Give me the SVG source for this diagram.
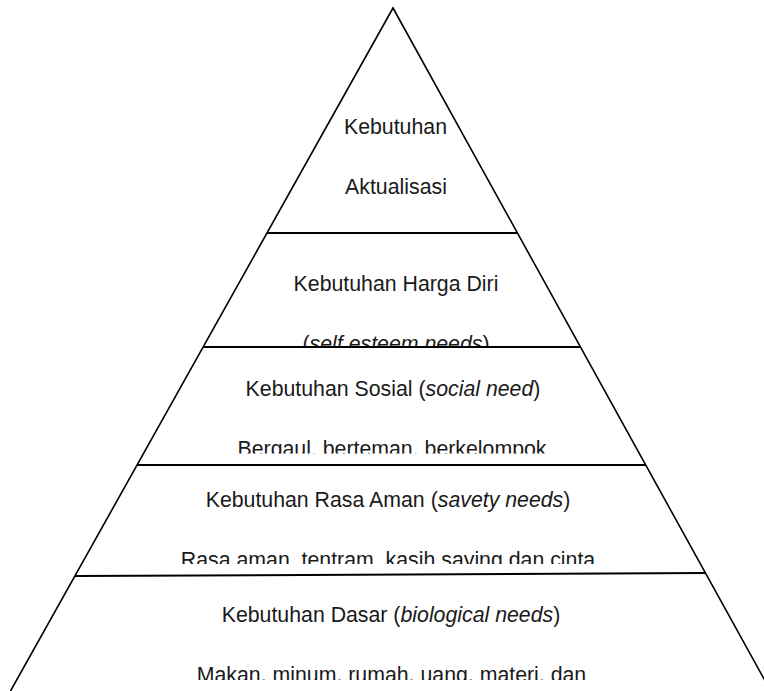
<svg xmlns="http://www.w3.org/2000/svg" width="764" height="691" viewBox="0 0 764 691">
<style>
  .edge { fill: none; stroke: #000; stroke-width: 1.6; }
  .div { stroke: #000; stroke-width: 2; }
  .t { font-family: "Liberation Sans", Arial, sans-serif; font-size: 21.3px; fill: #1a1a1a; text-anchor: middle; }
  .i { font-style: italic; }
</style>
<defs>
  <clipPath id="c2"><rect x="0" y="0" width="764" height="346.5"/></clipPath>
  <clipPath id="c3"><rect x="0" y="0" width="764" height="453.5"/></clipPath>
  <clipPath id="c4"><rect x="0" y="0" width="764" height="564"/></clipPath>
  <clipPath id="c5"><rect x="0" y="0" width="764" height="680"/></clipPath>
</defs>
<rect width="764" height="691" fill="#fff"/>
<g id="pyramid">
  <polyline class="edge" points="10.5,691 393,8 770.7,691"/>
</g>
<g id="tier-aktualisasi">
  <text class="t" x="395.5" y="134">Kebutuhan</text>
  <text class="t" x="396" y="194">Aktualisasi</text>
</g>
<g id="tier-harga-diri">
  <line class="div" x1="267" y1="233" x2="517.4" y2="233"/>
  <text class="t" x="396" y="291">Kebutuhan Harga Diri</text>
  <text class="t" x="396" y="351" clip-path="url(#c2)">(<tspan class="i">self esteem needs</tspan>)</text>
</g>
<g id="tier-sosial">
  <line class="div" x1="203.2" y1="347" x2="580.5" y2="347"/>
  <text class="t" x="393" y="396">Kebutuhan Sosial (<tspan class="i">social need</tspan>)</text>
  <text class="t" x="392" y="456" clip-path="url(#c3)">Bergaul, berteman, berkelompok</text>
</g>
<g id="tier-rasa-aman">
  <line class="div" x1="137" y1="465" x2="645.7" y2="465"/>
  <text class="t" x="388" y="507">Kebutuhan Rasa Aman (<tspan class="i">savety needs</tspan>)</text>
  <text class="t" x="388" y="567" clip-path="url(#c4)">Rasa aman, tentram, kasih saying dan cinta</text>
</g>
<g id="tier-dasar">
  <line class="div" x1="75" y1="576" x2="705.4" y2="573"/>
  <text class="t" x="391" y="622">Kebutuhan Dasar (<tspan class="i">biological needs</tspan>)</text>
  <text class="t" x="391.5" y="682" clip-path="url(#c5)">Makan, minum, rumah, uang, materi, dan</text>
</g>
</svg>
